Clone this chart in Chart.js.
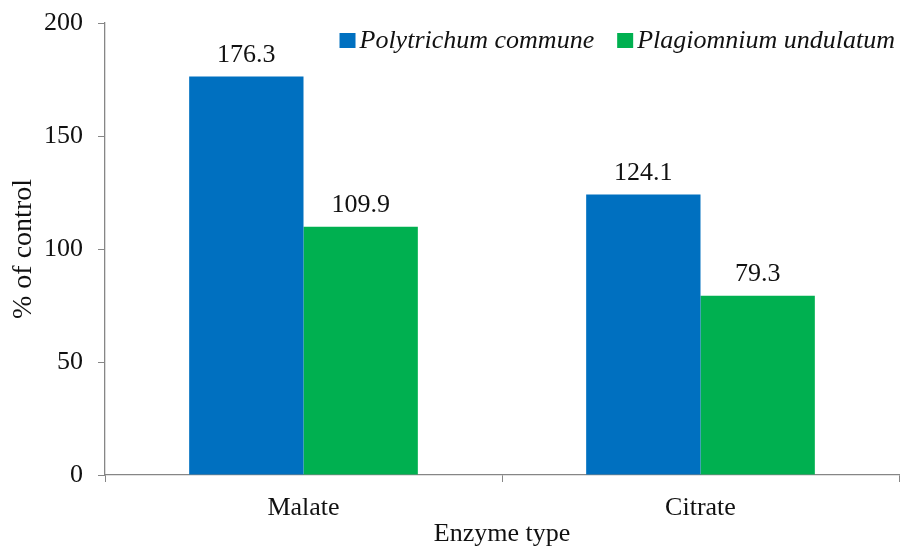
<!DOCTYPE html>
<html>
<head>
<meta charset="utf-8">
<script src="https://cdn.jsdelivr.net/npm/chart.js@4.4.1/dist/chart.umd.min.js"></script>
<style>
  html, body { margin: 0; padding: 0; background: #fff; }
  #wrap { width: 900px; height: 547px; }
</style>
</head>
<body>
<div id="wrap"><canvas id="enzymeChart"></canvas></div>
<script>
// Chart data
const categories = ['Malate', 'Citrate'];
const seriesNames = ['Polytrichum commune', 'Plagiomnium undulatum'];
const polytrichumValues = [176.3, 124.1];
const plagiomniumValues = [109.9, 79.3];
const yTickValues = [0, 50, 100, 150, 200];

const seriesColors = ['#0070C0', '#00B050'];
const serif = '"Liberation Serif", "Times New Roman", serif';
const axisGrey = '#868686';

// Value labels above each bar
const barLabels = {
  id: 'barLabels',
  afterDatasetsDraw(chart) {
    const ctx = chart.ctx;
    ctx.save();
    ctx.font = '26px ' + serif;
    ctx.fillStyle = '#111';
    ctx.textAlign = 'center';
    ctx.textBaseline = 'alphabetic';
    chart.data.datasets.forEach((ds, i) => {
      chart.getDatasetMeta(i).data.forEach((bar, j) => {
        ctx.fillText(ds.data[j].toFixed(1), bar.x, bar.y - 15);
      });
    });
    ctx.restore();
  }
};

// Legend drawn top right, inside the plot
const insideLegend = {
  id: 'insideLegend',
  afterDraw(chart) {
    const ctx = chart.ctx;
    const area = chart.chartArea;
    ctx.save();
    ctx.font = 'italic 26px ' + serif;
    ctx.textBaseline = 'alphabetic';
    const box = 16, gap = 4, spacing = 23;
    const widths = seriesNames.map(n => box + gap + ctx.measureText(n).width);
    const total = widths.reduce((a, b) => a + b, 0) + spacing * (widths.length - 1);
    let x = area.right - 4 - total;
    const baseline = area.top + 25;
    seriesNames.forEach((name, i) => {
      ctx.fillStyle = seriesColors[i];
      ctx.fillRect(x, baseline - 15, box, 15);
      ctx.fillStyle = '#111';
      ctx.fillText(name, x + box + gap, baseline);
      x += widths[i] + spacing;
    });
    ctx.restore();
  }
};

new Chart(document.getElementById('enzymeChart'), {
  type: 'bar',
  data: {
    labels: categories,
    datasets: [
      { label: seriesNames[0], data: polytrichumValues, backgroundColor: seriesColors[0] },
      { label: seriesNames[1], data: plagiomniumValues, backgroundColor: seriesColors[1] }
    ]
  },
  options: {
    responsive: true,
    maintainAspectRatio: false,
    animation: false,
    categoryPercentage: 0.576,
    barPercentage: 1,
    layout: { padding: { top: 23, right: 1, left: 0, bottom: 0 } },
    plugins: {
      legend: { display: false },
      tooltip: { enabled: false }
    },
    scales: {
      x: {
        grid: { drawOnChartArea: false, tickLength: 7, color: axisGrey },
        border: { color: axisGrey, width: 1.3 },
        ticks: { color: '#111', font: { family: serif, size: 26 }, padding: 11 },
        title: {
          display: true,
          text: 'Enzyme type',
          color: '#111',
          font: { family: serif, size: 26, lineHeight: 1 },
          padding: { top: 0, bottom: 0 }
        },
        afterFit(scale) { scale.height = 72; }
      },
      y: {
        min: 0,
        max: 200,
        afterBuildTicks(scale) { scale.ticks = yTickValues.map(v => ({ value: v })); },
        grid: { drawOnChartArea: false, tickLength: 7, color: axisGrey },
        border: { color: axisGrey, width: 1.3 },
        // small lineHeight so the top label does not push the plot down
        ticks: { color: '#111', font: { family: serif, size: 26, lineHeight: 0.5 }, padding: 15 },
        title: {
          display: true,
          text: '% of control',
          color: '#111',
          font: { family: serif, size: 28, lineHeight: 1.2 },
          padding: { top: 7, bottom: 0 }
        },
        afterFit(scale) { scale.width = 105; }
      }
    }
  },
  plugins: [barLabels, insideLegend]
});
</script>
</body>
</html>
